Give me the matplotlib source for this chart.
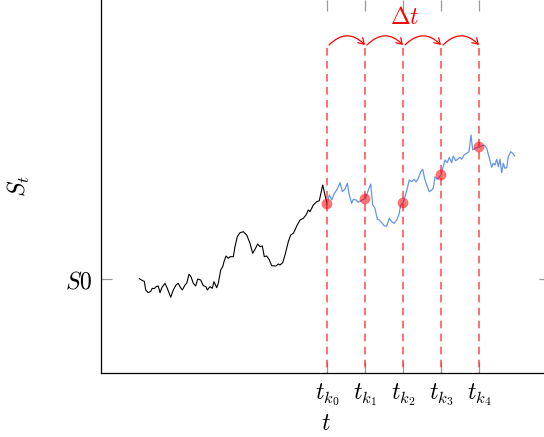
import numpy as np
import matplotlib.pyplot as plt
from matplotlib.patches import FancyArrowPatch

plt.rcParams['mathtext.fontset'] = 'cm'

# path values (time / price in screen-like units)
t_past = [139.3, 142.7, 144.3, 145.7, 148.3, 150.7, 152.3, 154.3, 156, 158.3, 160, 162, 165, 167.3,
          170.7, 173.3, 176, 178.3, 180, 182.3, 185, 186.7, 189, 191, 193.3, 195.7, 197.7, 200.7,
          203.3, 206, 207.3, 210, 212.3, 214, 216.7, 218.3, 220.7, 222.7, 224, 226, 228.3, 230,
          233.3, 235, 237.3, 240, 243.3, 246.7, 250, 252.7, 255, 257.7, 260, 262.3, 264.3, 266.7,
          269, 271.7, 276, 278.3, 280, 282.7, 285, 288.3, 290.7, 293.3, 295, 296.7, 300, 303.3,
          306, 308.3, 310, 313.3, 316.7, 319.3, 322.7, 325, 327]
s_past = [278.7, 280.7, 281.3, 290, 292.7, 291.3, 288.3, 288.7, 286.7, 286, 292.7, 287.3, 283.3, 288.3,
          297.3, 290, 285, 283.3, 286.7, 290, 285, 283.3, 274.3, 276.7, 283.3, 286, 279, 280,
          285.7, 286.7, 290, 286.7, 288.3, 281.7, 287.7, 283.3, 270, 266.7, 261.7, 256, 258.3, 256.7,
          256.7, 246.7, 236.7, 232.7, 231.7, 235, 243.3, 253.3, 249.3, 244, 246.7, 246, 256.7, 256,
          259.3, 265.7, 266, 264, 265, 262.7, 255, 241.7, 235, 233.3, 230, 226, 220, 218.3,
          215, 210, 211.7, 205, 201.7, 200.7, 185, 195, 204]

t_sim = [327, 329.3, 331.7, 334, 336.7, 340, 342.3, 345, 347.3, 349.3, 351.7, 353.3, 356, 358.3,
         360.7, 363.3, 365, 366.7, 368.3, 370.7, 372.7, 375, 377.3, 379.3, 381.7, 384.3, 386.7, 389.3,
         391.7, 394, 396.7, 399, 400.7, 403, 405, 407.3, 409.3, 411.7, 414, 416, 418.3, 420.7,
         422.7, 425, 427.3, 429.3, 431.7, 433.3, 435, 437.3, 441, 442.7, 445, 447.3, 449.3, 451.7,
         453.3, 455.7, 457.7, 460, 461.7, 464, 466.7, 469, 471, 472.7, 475, 479, 481.7, 484.3,
         486.7, 489, 491.7, 493.3, 495, 496.7, 498.3, 500, 501.7, 503.3, 505, 506.7, 508.3, 510.7,
         512.7, 514.7]
s_sim = [204, 195, 200, 194, 190, 182.7, 191.7, 189, 183.3, 195, 203.3, 199.3, 200, 202.3,
         201, 199.3, 199, 195, 190, 184, 205, 208.3, 219.3, 220, 222.7, 226, 226, 218.3,
         221.7, 223.3, 220, 214.3, 205, 203, 196.7, 188.3, 180, 181.7, 179.3, 182, 178.3, 171.7,
         169.3, 180, 186.7, 191.7, 190, 188.3, 176.7, 179.3, 175, 168.3, 160, 162.7, 157.3, 162.7,
         156, 160.7, 159.3, 157.3, 159.3, 155, 153.3, 151.7, 135, 150, 148.3, 147, 146, 145,
         148.3, 156.7, 167.3, 163.3, 165, 159.3, 166.7, 159.3, 172.7, 163.3, 168.3, 167.7, 156.7, 151.7,
         153.3, 156]

t_k = [327, 365, 403, 441, 479]
s_k = [204, 199, 203, 175, 147]
tk_labels = [r'$t_{k_0}$', r'$t_{k_1}$', r'$t_{k_2}$', r'$t_{k_3}$', r'$t_{k_4}$']
s0 = 279

fig = plt.figure(figsize=(5.44, 4.37), dpi=100)
ax = fig.add_axes([101 / 544, 64 / 437, 449 / 544, 373 / 437])

ax.plot(t_past, s_past, color='black', lw=0.8)
ax.plot(t_sim, s_sim, color='#6495ED', lw=0.9)

# sampling times
ax.vlines(t_k, 48, 373, colors='#ff2a2a', linestyles=(0, (5, 3.5)), lw=1.1, alpha=0.85)
ax.scatter(t_k, s_k, s=60, color='red', alpha=0.55, edgecolors='none', zorder=3)

# Delta t arcs
for a, b in zip(t_k[:-1], t_k[1:]):
    arr = FancyArrowPatch((a + 2, 45), (b, 45), connectionstyle='arc3,rad=-0.5',
                          arrowstyle='->,head_length=4,head_width=2.5', color='red', lw=0.9,
                          mutation_scale=1, shrinkA=0, shrinkB=0)
    ax.add_patch(arr)
ax.text(405, 17, r'$\Delta t$', color='red', fontsize=17, ha='center', va='center')

ax.set_xlim(101, 550)
ax.set_ylim(373, 0)

ax.set_xticks(t_k)
ax.set_xticklabels(tk_labels, fontsize=17)
ax.set_yticks([s0])
ax.set_yticklabels([r'$S0$'], fontsize=17)
ax.tick_params(direction='in', length=8, width=0.9, color='#999999', pad=6,
               top=True, right=True)

ax.spines['top'].set_visible(False)
ax.spines['right'].set_visible(False)
ax.spines['left'].set_linewidth(0.9)
ax.spines['bottom'].set_linewidth(0.9)

ax.set_xlabel(r'$t$', fontsize=17, labelpad=2)
ax.set_ylabel(r'$S_t$', fontsize=17, labelpad=24)

fig.savefig('out.png', dpi=100)
